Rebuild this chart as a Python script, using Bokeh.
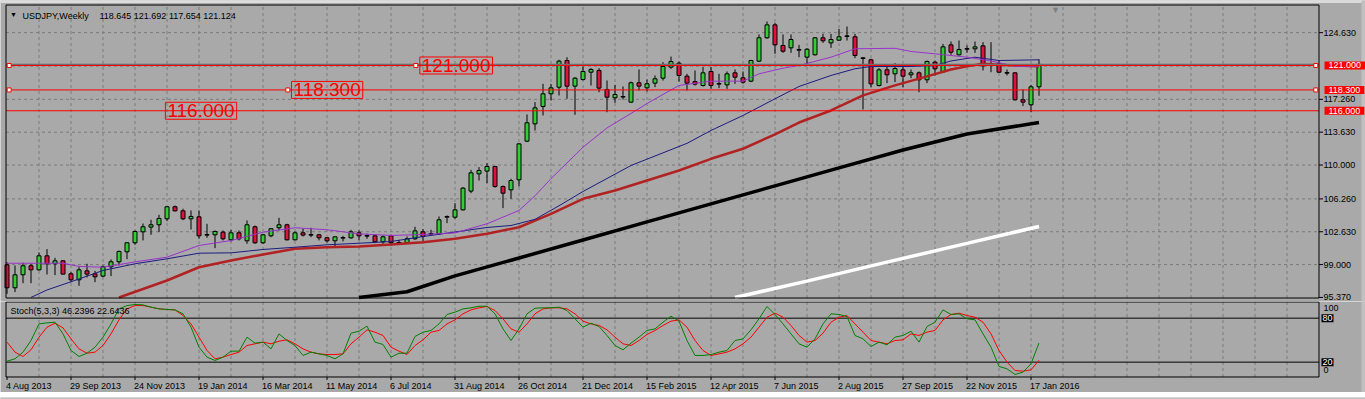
from bokeh.plotting import figure
from bokeh.models import Range1d, Label, ColumnDataSource
from bokeh.layouts import column
from bokeh.embed import file_html
from bokeh.resources import INLINE
from bokeh.core.properties import value

BG = "#A9A9A9"
EDGE = "#C0C0C0"
TOPSTRIP = "#DCDCDC"
GRID = "#7A7A7A"
FONT = "Liberation Sans"
BULL = "#32CD32"
BEAR = "#DC143C"

symbol_title = "USDJPY,Weekly"
ohlc_title = "118.645 121.692 117.654 121.124"
stoch_title = "Stoch(5,3,3) 46.2396 22.6436"

opens = [98.98, 96.44, 97.87, 98.87, 98.42, 99.97, 99.09, 99.42, 97.98, 97.32,
         98.31, 97.98, 97.73, 98.76, 99.31, 100.41, 101.41, 102.62, 103.14, 103.40,
         104.06, 105.39, 104.94, 104.06, 104.28, 102.29, 102.29, 102.59, 101.74, 102.51,
         101.63, 103.18, 101.41, 102.18, 103.07, 103.40, 101.74, 102.51, 102.29, 102.29,
         101.96, 101.63, 101.96, 101.96, 102.51, 102.18, 102.18, 101.52, 102.18, 101.41,
         101.41, 101.85, 102.62, 102.40, 102.40, 104.28, 104.24, 105.05, 107.12, 109.03,
         109.33, 109.84, 107.63, 107.26, 108.37, 112.64, 114.55, 116.47, 117.87, 118.60,
         121.55, 118.72, 119.45, 120.26, 120.45, 118.35, 117.43, 117.55, 116.95, 119.09,
         118.53, 119.05, 119.60, 120.82, 121.26, 119.82, 119.23, 118.79, 120.34, 118.98,
         118.86, 120.19, 119.64, 119.27, 121.48, 124.06, 125.49, 123.21, 122.95, 122.73,
         121.92, 122.18, 124.06, 123.50, 123.80, 124.24, 124.17, 121.81, 121.63, 118.79,
         120.52, 120.08, 120.52, 119.97, 120.19, 119.42, 121.37, 120.30, 123.28, 122.18,
         122.84, 122.84, 123.17, 121.15, 121.18, 120.19, 120.19, 117.21, 116.66, 118.645]
highs = [99.27, 98.90, 99.20, 99.09, 100.34, 100.71, 99.75, 99.46, 98.17, 98.72,
         99.09, 98.31, 98.90, 99.57, 100.56, 101.48, 102.77, 103.54, 103.95, 104.50,
         105.42, 105.53, 105.17, 104.98, 104.98, 103.51, 102.77, 102.77, 102.84, 102.77,
         103.88, 103.32, 102.40, 103.03, 104.17, 103.51, 102.66, 102.96, 103.07, 102.40,
         102.03, 102.11, 102.18, 102.84, 102.77, 102.40, 102.26, 102.22, 102.33, 101.74,
         102.11, 103.18, 102.92, 102.84, 104.32, 104.43, 105.79, 107.56, 109.47, 109.77,
         110.21, 109.91, 107.74, 108.48, 112.42, 115.59, 116.95, 118.97, 118.97, 121.63,
         121.92, 119.71, 120.89, 120.71, 120.71, 119.34, 118.86, 118.68, 119.23, 120.56,
         119.45, 119.90, 121.37, 121.99, 121.44, 120.08, 120.45, 120.82, 120.82, 120.08,
         120.34, 120.56, 120.34, 121.63, 124.43, 125.86, 125.72, 124.43, 124.43, 123.28,
         122.92, 124.13, 124.50, 124.50, 125.05, 125.31, 124.50, 121.92, 121.74, 120.71,
         121.00, 121.26, 121.00, 120.56, 120.34, 121.55, 121.55, 123.39, 123.65, 123.76,
         123.21, 123.65, 123.58, 123.58, 121.55, 120.56, 120.26, 118.35, 118.86, 121.692]
lows = [95.77, 95.96, 96.95, 96.95, 98.35, 97.91, 97.84, 97.91, 97.06, 96.66,
        97.58, 97.06, 97.61, 97.73, 98.90, 99.60, 101.19, 101.67, 102.29, 102.59,
        103.80, 104.87, 103.91, 102.88, 101.85, 101.96, 100.82, 101.67, 101.56, 101.67,
        101.30, 101.30, 101.30, 102.03, 102.77, 101.67, 101.67, 102.11, 102.03, 101.67,
        101.45, 100.93, 101.56, 101.85, 101.67, 101.85, 101.37, 101.30, 101.11, 101.22,
        101.30, 101.74, 101.56, 102.29, 102.29, 103.58, 104.06, 104.98, 106.89, 108.29,
        108.00, 107.49, 105.24, 106.27, 107.63, 112.53, 113.82, 115.48, 117.13, 117.69,
        117.32, 115.55, 119.34, 118.79, 118.05, 115.84, 116.88, 117.24, 116.88, 118.24,
        118.13, 118.61, 119.34, 120.63, 119.23, 118.24, 118.79, 118.68, 118.42, 118.50,
        118.42, 118.98, 118.98, 119.16, 121.37, 123.95, 122.29, 122.40, 122.40, 121.92,
        120.93, 122.11, 123.50, 122.95, 123.73, 123.76, 121.81, 116.14, 118.61, 118.68,
        119.05, 119.16, 118.61, 119.60, 118.05, 119.05, 119.90, 120.19, 122.18, 122.11,
        122.40, 122.40, 120.45, 120.26, 120.19, 119.90, 117.13, 116.51, 115.84, 117.654]
closes = [96.44, 97.87, 98.87, 98.42, 99.97, 99.09, 99.42, 97.95, 97.32, 98.42,
          97.95, 97.65, 98.76, 99.31, 100.45, 101.41, 102.66, 103.18, 103.40, 104.10,
          105.39, 104.94, 104.06, 104.32, 102.18, 102.29, 102.66, 101.85, 102.51, 101.85,
          103.40, 101.41, 102.29, 102.96, 103.40, 101.74, 102.51, 102.26, 102.29, 101.96,
          101.63, 102.07, 101.96, 102.62, 102.18, 102.18, 101.52, 102.07, 101.41, 101.41,
          101.85, 102.73, 102.11, 102.40, 103.95, 104.28, 105.05, 107.45, 109.14, 109.40,
          109.84, 107.63, 106.89, 108.29, 112.34, 114.67, 116.32, 117.87, 118.53, 121.48,
          118.72, 119.60, 120.34, 120.56, 118.50, 117.50, 117.80, 117.55, 119.09, 118.72,
          118.98, 119.53, 120.89, 121.44, 119.90, 119.05, 118.94, 120.19, 118.79, 118.98,
          120.08, 119.71, 119.16, 121.55, 124.06, 125.49, 123.28, 122.58, 123.87, 122.73,
          122.80, 124.06, 123.73, 123.87, 124.17, 124.24, 122.11, 121.81, 118.97, 120.52,
          119.97, 120.67, 119.82, 120.19, 119.42, 121.44, 120.63, 123.06, 122.47, 122.77,
          122.84, 123.06, 120.96, 121.15, 120.26, 120.19, 117.21, 116.95, 118.645, 121.124]
bars = list(range(len(opens)))

date_ticks = [0, 8, 16, 24, 32, 40, 48, 56, 64, 72, 80, 88, 96, 104, 112, 120, 128]
date_labels = ["4 Aug 2013", "29 Sep 2013", "24 Nov 2013", "19 Jan 2014", "16 Mar 2014",
               "11 May 2014", "6 Jul 2014", "31 Aug 2014", "26 Oct 2014", "21 Dec 2014",
               "15 Feb 2015", "12 Apr 2015", "7 Jun 2015", "2 Aug 2015", "27 Sep 2015",
               "22 Nov 2015", "17 Jan 2016"]
grid_bars = list(range(4, 164, 4))
price_ticks = [95.37, 99.0, 102.63, 106.26, 110.0, 113.63, 117.26, 124.63]
price_grid = [99.0, 102.63, 106.26, 110.0, 113.63, 117.26, 120.93, 124.63]

ma_purple_x = [0, 4, 7, 9, 12, 14, 16, 20, 24, 28, 32, 36, 40, 44, 48, 52, 56, 60, 64, 66,
               68, 72, 75, 78, 80, 82, 84, 88, 92, 94, 97, 99, 103, 106, 111, 113, 116, 120,
               123, 126, 129]
ma_purple_y = [99.15, 99.15, 99.15, 98.8, 98.71, 99.0, 99.3, 99.82, 101.11, 101.66, 102.58,
               103.07, 102.85, 102.40, 102.22, 102.33, 102.50, 103.51, 104.98, 106.6, 108.5,
               111.97, 114.1, 115.7, 116.8, 117.8, 118.8, 119.27, 119.27, 120.08, 120.7, 121.0,
               121.92, 122.85, 122.9, 122.55, 122.29, 121.92, 121.5, 120.92, 120.92]
ma_navy_x = [3, 5, 8, 12, 16, 20, 24, 28, 32, 36, 40, 44, 48, 52, 56, 60, 63, 66, 69, 72, 78,
             85, 88, 92, 96, 99, 103, 106, 108, 113, 116, 118, 121, 124, 129]
ma_navy_y = [95.37, 96.2, 97.1, 98.35, 99.09, 99.64, 100.26, 100.30, 100.67, 100.92, 101.19,
             101.36, 101.55, 102.10, 102.6, 103.1, 103.32, 104.0, 105.5, 107.08, 109.95, 112.4,
             113.82, 115.48, 117.32, 118.68, 119.9, 120.64, 120.89, 120.89, 121.0, 121.5,
             121.92, 121.55, 121.63]
ma_red_x = [14, 17, 20, 24, 28, 32, 36, 40, 44, 48, 52, 56, 60, 64, 68, 72, 76, 80, 84, 88, 92,
            96, 99, 103, 107, 111, 115, 118, 120, 122, 124, 126, 129]
ma_red_y = [95.37, 96.3, 97.24, 98.71, 99.45, 100.12, 100.75, 100.92, 101.0, 101.22, 101.48,
            101.85, 102.40, 103.13, 104.6, 106.27, 107.19, 108.29, 109.40, 110.69, 111.80, 113.4,
            114.70, 116.03, 117.7, 118.8, 119.8, 120.56, 120.92, 121.19, 121.08, 121.0, 120.92]
ma_black_x = [44, 50, 56, 64, 72, 80, 88, 96, 104, 112, 120, 129]
ma_black_y = [95.37, 96.0, 97.75, 99.73, 101.72, 103.72, 105.71, 107.70, 109.69, 111.66,
              113.43, 114.70]
ma_white_x = [91, 100, 110, 120, 129]
ma_white_y = [95.37, 97.17, 99.27, 101.35, 103.21]

stoch_k = [21.3, 24.5, 33.6, 49.5, 72.2, 73.6, 74.5, 58.6, 35.9, 27.7,
           32.2, 40.4, 54.1, 72.2, 92.7, 97.2, 98.6, 98.2, 95.0, 92.7,
           91.8, 91.3, 85.9, 67.7, 40.4, 26.8, 22.3, 26.8, 35.0, 35.0,
           54.1, 45.9, 47.3, 38.1, 58.6, 49.5, 42.7, 29.1, 33.6, 31.3,
           29.1, 24.5, 31.3, 59.5, 62.2, 69.1, 47.3, 44.1, 26.8, 32.2,
           32.2, 55.0, 60.9, 63.2, 72.2, 85.0, 88.2, 92.7, 94.1, 96.3,
           96.3, 85.9, 65.4, 49.5, 65.4, 85.9, 93.6, 94.1, 94.1, 95.0,
           90.4, 79.1, 67.7, 73.1, 68.6, 56.4, 42.7, 36.8, 45.9, 54.1,
           63.2, 65.4, 74.5, 82.7, 75.9, 49.5, 29.1, 29.1, 30.4, 33.6,
           35.9, 49.5, 51.8, 64.1, 79.1, 95.9, 85.0, 72.2, 58.6, 45.0,
           40.4, 51.8, 72.2, 85.9, 85.0, 82.2, 56.4, 51.8, 41.3, 47.3,
           43.6, 54.1, 56.4, 62.2, 47.3, 68.6, 74.5, 91.3, 85.0, 85.9,
           79.1, 77.7, 58.6, 40.4, 14.1, 10.9, 3.2, 6.3, 17.7, 46.24]
stoch_d = [47.3, 33.6, 27.7, 36.8, 54.1, 67.7, 73.1, 66.8, 51.8, 38.1,
           32.2, 33.6, 42.7, 58.6, 77.7, 92.7, 97.2, 97.2, 95.0, 92.7,
           91.8, 91.3, 83.6, 72.2, 54.1, 35.9, 24.5, 26.8, 30.4, 33.6,
           42.7, 45.0, 47.3, 45.0, 48.6, 50.4, 45.0, 38.1, 33.6, 31.3,
           30.4, 30.4, 31.3, 45.0, 54.1, 64.1, 60.9, 56.4, 40.4, 35.0,
           30.4, 42.7, 50.4, 60.9, 63.2, 72.2, 77.7, 85.9, 91.3, 94.1,
           95.9, 90.4, 79.1, 65.4, 60.9, 72.2, 85.9, 92.7, 94.1, 94.1,
           92.7, 85.9, 75.9, 72.2, 70.0, 64.1, 54.1, 45.0, 42.7, 49.5,
           57.7, 63.2, 70.0, 75.9, 77.7, 67.7, 49.5, 35.9, 29.1, 31.3,
           33.6, 38.1, 45.0, 54.1, 67.7, 81.3, 86.8, 81.3, 70.0, 56.4,
           47.3, 49.5, 59.5, 74.5, 81.3, 83.6, 72.2, 60.9, 49.5, 47.3,
           45.0, 49.5, 50.4, 58.6, 56.4, 60.9, 63.2, 77.7, 85.0, 86.8,
           83.6, 81.3, 74.5, 58.6, 35.9, 20.0, 8.6, 7.7, 9.5, 22.64]

levels = [121.0, 118.3, 116.0]
level_texts = ["121.000", "118.300", "116.000"]
level_label_bar = [51.6, 35.56, 19.8]
selected_levels = [121.0, 118.3]
selected_mid_bar = [51.1, 35.1]
bid_price = 121.124
stoch_levels = [80, 20]

# pane geometry (bar units / price units / stoch units)
FL, FR = -0.125, 164.0          # frame left / right edge
PT, PB = 127.685, 95.309        # main frame top / bottom price
ST, SB = 102.05, -0.27          # stoch frame top / bottom
TICK_B = -4.37                  # end of date tick marks
DATE_Y = -11.87                 # date label centre
AX_X = 164.5625                 # price scale text position
EDGE_X = 169.31                 # light window edge at right
TOP_Y = 127.90                  # lower edge of the light strip at the top

xr = Range1d(-0.8125, 169.8125)

# ---------------- main price pane ----------------
p = figure(frame_width=1365, frame_height=301, x_range=xr, y_range=Range1d(94.9227, 128.1823),
           x_axis_type=None, y_axis_type=None, toolbar_location=None, output_backend="svg",
           background_fill_color=BG, border_fill_color=BG, min_border=0,
           min_border_left=0, min_border_right=0, min_border_top=0, min_border_bottom=0,
           outline_line_color=None)

p.quad(left=[-1.0], right=[171.0], top=[129.0], bottom=[TOP_Y], fill_color=TOPSTRIP, line_color=None)

p.segment(x0=grid_bars, y0=[PB] * len(grid_bars), x1=grid_bars, y1=[PT] * len(grid_bars),
          line_color=GRID, line_dash="3 3", line_width=1)
p.segment(x0=[FL] * len(price_grid), y0=price_grid, x1=[FR] * len(price_grid), y1=price_grid,
          line_color=GRID, line_dash="3 3", line_width=1)

tops = [max(o, c) for o, c in zip(opens, closes)]
bots = [min(o, c) for o, c in zip(opens, closes)]
cols = [BULL if c > o else (BEAR if c < o else "black") for o, c in zip(opens, closes)]
src = ColumnDataSource(dict(x=bars, h=highs, l=lows, top=tops, bottom=bots, color=cols))
p.segment(x0="x", y0="l", x1="x", y1="h", source=src, line_color="black", line_width=1)
p.vbar(x="x", width=0.5, top="top", bottom="bottom", fill_color="color",
       line_color="black", line_width=1, source=src)
doji_x = [b for b, o, c in zip(bars, opens, closes) if o == c]
doji_y = [o for o, c in zip(opens, closes) if o == c]
p.segment(x0=[b - 0.3 for b in doji_x], y0=doji_y, x1=[b + 0.3 for b in doji_x], y1=doji_y,
          line_color="black", line_width=1)

p.line(ma_white_x, ma_white_y, line_color="white", line_width=3.5)
p.line(ma_black_x, ma_black_y, line_color="black", line_width=3.5)
p.line(ma_red_x, ma_red_y, line_color="#B22222", line_width=2.5)
p.line(ma_navy_x, ma_navy_y, line_color="#1C1C80", line_width=1)
p.line(ma_purple_x, ma_purple_y, line_color="#9932CC", line_width=1)

p.segment(x0=[FL], y0=[bid_price], x1=[FR], y1=[bid_price], line_color="#6E6E6E", line_width=1.5)
p.segment(x0=[FL] * len(levels), y0=levels, x1=[FR] * len(levels), y1=levels,
          line_color="#FF0000", line_width=1)

p.quad(left=[FL], right=[FR], top=[PT], bottom=[PB], fill_color=None,
       line_color="black", line_width=1)

p.segment(x0=[FR] * len(price_ticks), y0=price_ticks, x1=[FR + 0.5] * len(price_ticks),
          y1=price_ticks, line_color="black", line_width=1)
p.text(x=[AX_X] * len(price_ticks), y=price_ticks, text=["%.3f" % t for t in price_ticks],
       text_font=value(FONT), text_font_size=value("9px"), text_color="black",
       text_baseline="middle", text_align="left")

hx = [0.27, 0.27] + selected_mid_bar + [163.6, 163.6]
hy = selected_levels + selected_levels + selected_levels
p.scatter(hx, hy, marker="square", size=4, fill_color="white", line_color="#FF0000", line_width=1)

for lv, t, bx in zip(levels, level_texts, level_label_bar):
    p.add_layout(Label(x=bx, y=lv, text=t, text_color="#FF0000", text_font=FONT,
                       text_font_size="19px", text_baseline="middle", text_align="left",
                       border_line_color="#FF0000", border_line_width=1, padding=2))
for lv, t in zip(levels, level_texts):
    p.add_layout(Label(x=AX_X + 0.125, y=lv, text=t, text_color="white", text_font=FONT,
                       text_font_size="9px", text_baseline="middle", text_align="left",
                       background_fill_color="#FF0000", padding=(4, 1)))

p.add_layout(Label(x=0.81, y=126.64, text="\u25BC", text_color="black", text_font=FONT,
                   text_font_size="7px", text_baseline="middle", text_align="center"))
p.add_layout(Label(x=1.94, y=126.52, text=symbol_title, text_color="black", text_font=FONT,
                   text_font_size="9px", text_baseline="middle", text_align="left"))
p.add_layout(Label(x=11.56, y=126.52, text=ohlc_title, text_color="black", text_font=FONT,
                   text_font_size="9px", text_baseline="middle", text_align="left"))
p.add_layout(Label(x=131.06, y=127.08, text="\u25BC", text_color="#808080", text_font=FONT,
                   text_font_size="9px", text_baseline="middle", text_align="center"))

p.quad(left=[EDGE_X], right=[170.5], top=[130.0], bottom=[90.0], fill_color=EDGE, line_color=None)

# ---------------- stochastic pane with time scale ----------------
s = figure(frame_width=1365, frame_height=91, x_range=xr, y_range=Range1d(-21.42, 102.73),
           x_axis_type=None, y_axis_type=None, toolbar_location=None, output_backend="svg",
           background_fill_color=BG, border_fill_color=BG, min_border=0,
           min_border_left=0, min_border_right=0, min_border_top=0, min_border_bottom=0,
           outline_line_color=None)
s.segment(x0=grid_bars, y0=[SB] * len(grid_bars), x1=grid_bars, y1=[ST] * len(grid_bars),
          line_color=GRID, line_dash="3 3", line_width=1)
s.segment(x0=[FL] * len(stoch_levels), y0=stoch_levels, x1=[FR] * len(stoch_levels),
          y1=stoch_levels, line_color="black", line_width=1)
s.line(bars, stoch_d, line_color="#FF0000", line_width=1)
s.line(bars, stoch_k, line_color="#008000", line_width=1)
s.quad(left=[FL], right=[FR], top=[ST], bottom=[SB], fill_color=None,
       line_color="black", line_width=1)
s.quad(left=[EDGE_X], right=[170.5], top=[110.0], bottom=[-30.0], fill_color=EDGE, line_color=None)

s.segment(x0=date_ticks, y0=[SB] * len(date_ticks), x1=date_ticks, y1=[TICK_B] * len(date_ticks),
          line_color="black", line_width=1)
s.text(x=date_ticks, y=[DATE_Y] * len(date_ticks), text=date_labels, x_offset=-1,
       text_font=value(FONT), text_font_size=value("9px"), text_color="black",
       text_baseline="middle", text_align="left")

s.add_layout(Label(x=0.44, y=89.5, text=stoch_title, text_color="black", text_font=FONT,
                   text_font_size="9px", text_baseline="middle", text_align="left"))
s.add_layout(Label(x=AX_X, y=93.2, text="100", text_color="black", text_font=FONT,
                   text_font_size="9px", text_baseline="middle", text_align="left"))
s.add_layout(Label(x=AX_X, y=8.6, text="0", text_color="black", text_font=FONT,
                   text_font_size="9px", text_baseline="middle", text_align="left"))
for lv in stoch_levels:
    s.add_layout(Label(x=AX_X - 0.25, y=lv, text=str(lv), text_color="white", text_font=FONT,
                       text_font_size="9px", text_baseline="middle", text_align="left",
                       background_fill_color="black", padding=1))

b = figure(frame_width=1365, frame_height=7, x_range=xr, y_range=Range1d(0, 1),
           x_axis_type=None, y_axis_type=None, toolbar_location=None, output_backend="svg",
           background_fill_color=EDGE, border_fill_color=EDGE, min_border=0,
           min_border_left=0, min_border_right=0, min_border_top=0, min_border_bottom=0,
           outline_line_color=None)
b.quad(left=[-1.0], right=[171.0], top=[1.0], bottom=[0.0], fill_color=EDGE, line_color=None)

layout = column(p, s, b, spacing=0)
open("out.html", "w").write(file_html(layout, INLINE))
